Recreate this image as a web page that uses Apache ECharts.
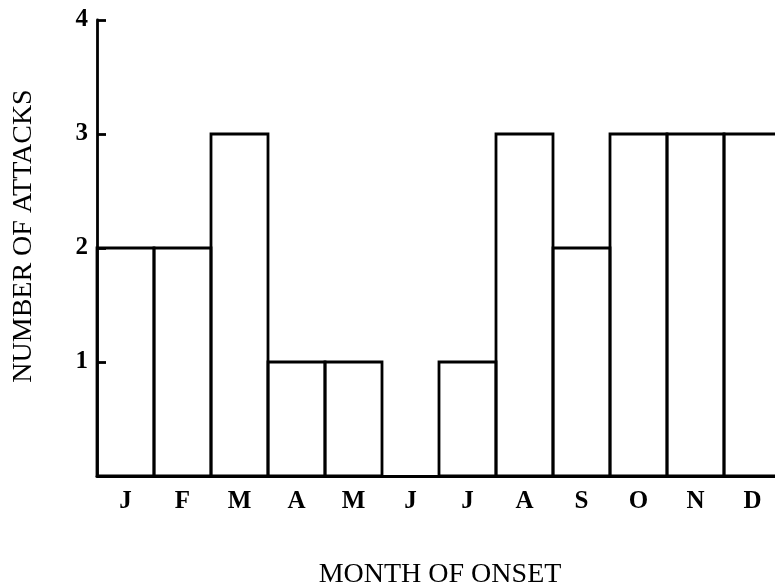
<!DOCTYPE html>
<html>
<head>
<meta charset="utf-8">
<script src="https://cdn.jsdelivr.net/npm/echarts@6/dist/echarts.min.js"></script>
<style>
html,body{margin:0;padding:0;background:#fff;}
#chart{width:775px;height:585px;}
</style>
</head>
<body>
<div id="chart"></div>
<script>
const months = ['J','F','M','A','M','J','J','A','S','O','N','D'];
const attacks = [2,2,3,1,1,0,1,3,2,3,3,3];
const yTicks = [0,1,2,3,4];
const xTitle = 'MONTH OF ONSET';
const yTitle = 'NUMBER OF ATTACKS';

const chart = echarts.init(document.getElementById('chart'));
const serif = '"Liberation Serif","DejaVu Serif",serif';
chart.setOption({
  animation:false,
  backgroundColor:'#fff',
  grid:{left:97, width:684, top:20, bottom:109, containLabel:false, outerBoundsMode:'none'},
  xAxis:{
    type:'category',
    data:months,
    axisLine:{show:true, lineStyle:{color:'#000', width:2.8}},
    axisTick:{show:false},
    axisLabel:{color:'#000', fontFamily:serif, fontSize:25, fontWeight:'bold', margin:13}
  },
  yAxis:{
    type:'value',
    min:yTicks[0], max:yTicks[yTicks.length-1], interval:1,
    axisLine:{show:true, lineStyle:{color:'#000', width:2.8}},
    axisTick:{show:true, inside:true, length:9, lineStyle:{color:'#000', width:2.8}},
    splitLine:{show:false},
    axisLabel:{color:'#000', fontFamily:serif, fontSize:25, fontWeight:'bold', margin:9,
      formatter:v => v===0 ? '' : String(v)}
  },
  graphic:[
    {type:'text', x:440, y:575,
     style:{text:xTitle, x:0, y:0, align:'center', verticalAlign:'middle', fill:'#000', font:'28px ' + serif}},
    {type:'text', x:24, y:236, rotation:Math.PI/2,
     style:{text:yTitle, x:0, y:0, align:'center', verticalAlign:'middle', fill:'#000', font:'28px ' + serif}}
  ],
  series:[{
    type:'custom',
    data:attacks.map((v,i)=>[i,v]),
    encode:{x:0, y:1},
    renderItem:function(params, api){
      const i = api.value(0), v = api.value(1);
      if (!v) return null;
      const top = api.coord([i, v]);
      const base = api.coord([i, 0]);
      const w = api.size([1, 0])[0];
      return {
        type:'rect',
        shape:{x: top[0] - w/2, y: top[1], width: w, height: base[1] - top[1]},
        style:{fill:'none', stroke:'#000', lineWidth:2.8}
      };
    }
  }]
});
</script>
</body>
</html>
